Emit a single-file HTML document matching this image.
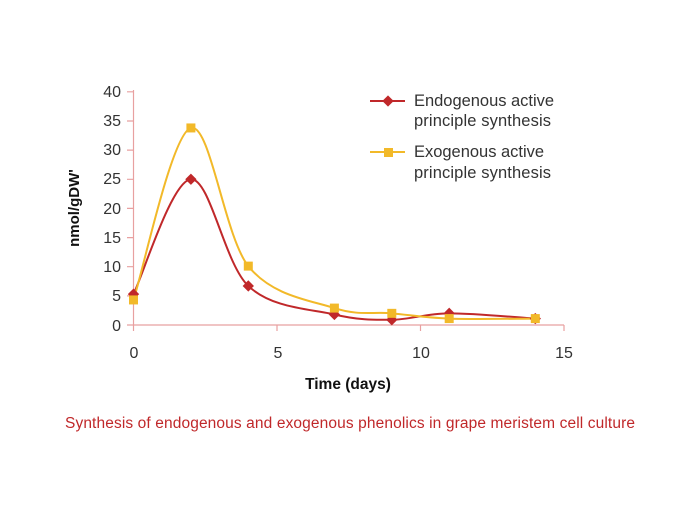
<!DOCTYPE html>
<html><head><style>
body{margin:0;background:#fff;width:699px;height:516px;overflow:hidden}
svg text{font-family:"Liberation Sans",sans-serif}
</style></head><body>
<svg id="s" width="699" height="516" xmlns="http://www.w3.org/2000/svg">
<g stroke="#e8a0a0" stroke-width="1.2" fill="none">
<line x1="133.5" y1="90" x2="133.5" y2="325"/>
<line x1="133.5" y1="325" x2="564" y2="325"/>
<path d="M127 91.8H133.5M127 121H133.5M127 150.1H133.5M127 179.3H133.5M127 208.4H133.5M127 237.6H133.5M127 266.7H133.5M127 295.9H133.5M127 325H133.5"/>
<path d="M133.5 325V331M277 325V331M420.5 325V331M564 325V331"/>
</g>
<g font-size="16" fill="#333" text-anchor="end">
<text x="121" y="97">40</text><text x="121" y="126">35</text><text x="121" y="155">30</text><text x="121" y="184">25</text><text x="121" y="214">20</text><text x="121" y="243">15</text><text x="121" y="272">10</text><text x="121" y="301">5</text><text x="121" y="331">0</text>
</g>
<g font-size="16" fill="#333" text-anchor="middle">
<text x="134" y="358">0</text><text x="278" y="358">5</text><text x="421" y="358">10</text><text x="564" y="358">15</text>
</g>
<text x="348" y="389" font-size="15.5" font-weight="bold" fill="#111" text-anchor="middle">Time (days)</text>
<text transform="translate(79,208) rotate(-90)" font-size="15" font-weight="bold" fill="#111" text-anchor="middle">nmol/gDW'</text>
<g id="series"></g>
<line x1="370" y1="101" x2="405" y2="101" stroke="#c0282a" stroke-width="2"/>
<rect x="384" y="97" width="8" height="8" fill="#c0282a" transform="rotate(45 388 101)"/>
<line x1="370" y1="152" x2="405" y2="152" stroke="#f2b929" stroke-width="2"/>
<rect x="384" y="148" width="9" height="9" fill="#f2b929"/>
<g font-size="16.5" fill="#333">
<text x="414" y="106" textLength="140">Endogenous active</text><text x="414" y="126" textLength="137">principle synthesis</text>
<text x="414" y="157" textLength="130">Exogenous active</text><text x="414" y="178" textLength="137">principle synthesis</text>
</g>
<text x="65" y="428" font-size="15.5" fill="#c0282a" textLength="570">Synthesis of endogenous and exogenous phenolics in grape meristem cell culture</text>
</svg>
<script>
function X(t){return 133.5+28.7*t}function Y(v){return 325-5.83*v}
function path(p){var d="M"+p[0][0]+" "+p[0][1];for(var i=0;i<p.length-1;i++){var p0=p[i-1]||p[i],p1=p[i],p2=p[i+1],p3=p[i+2]||p2;var k=6;d+=" C"+(p1[0]+(p2[0]-p0[0])/k)+" "+(p1[1]+(p2[1]-p0[1])/k)+" "+(p2[0]-(p3[0]-p1[0])/k)+" "+(p2[1]-(p3[1]-p1[1])/k)+" "+p2[0]+" "+p2[1];}return d}
var T=[0,2,4,7,9,11,14],en=[5.3,25,6.7,1.8,0.9,2,1.1],ex=[4.3,33.8,10.1,2.9,2,1.1,1.1];
var g=document.getElementById("series"),h="";
function pts(a){return T.map(function(t,i){return [X(t),Y(a[i])]})}
var pe=pts(en),px=pts(ex);
h+='<path d="'+path(pe)+'" fill="none" stroke="#c0282a" stroke-width="2"/>';
h+='<path d="'+path(px)+'" fill="none" stroke="#f2b929" stroke-width="2"/>';
pe.forEach(function(p){h+='<rect x="'+(p[0]-4)+'" y="'+(p[1]-4)+'" width="8" height="8" fill="#c0282a" transform="rotate(45 '+p[0]+' '+p[1]+')"/>'});
px.forEach(function(p){h+='<rect x="'+(p[0]-4.5)+'" y="'+(p[1]-4.5)+'" width="9" height="9" fill="#f2b929"/>'});
g.innerHTML=h;
</script>
</body></html>
